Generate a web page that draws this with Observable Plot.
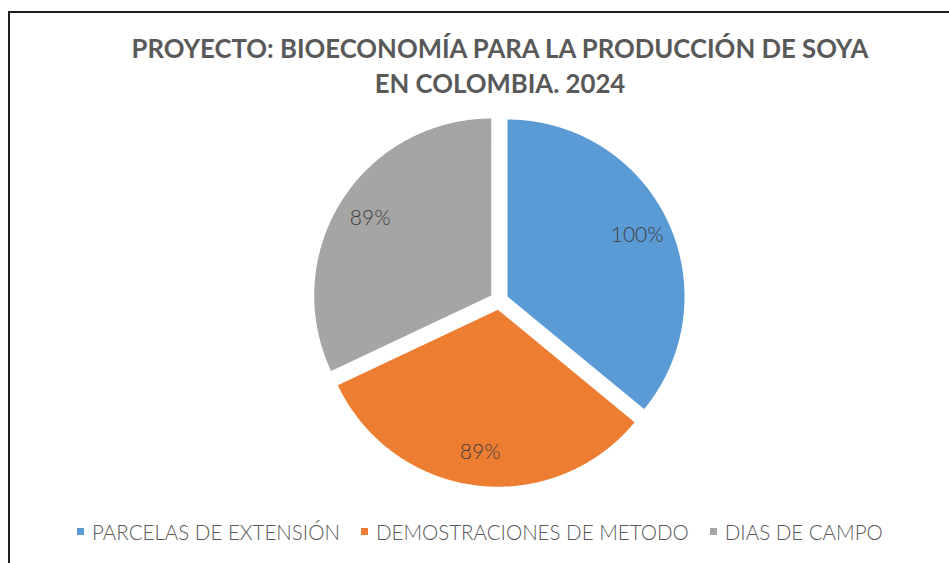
<!DOCTYPE html>
<html><head><meta charset="utf-8">
<script src="https://cdn.jsdelivr.net/npm/d3@7"></script>
<script src="https://cdn.jsdelivr.net/npm/@observablehq/plot@0.6"></script>
<style>
html,body{margin:0;padding:0;background:#fff;overflow:hidden;width:949px;height:563px;}
#frame{position:absolute;left:8px;top:11px;width:1000px;height:600px;border:2px solid #1e1e1e;box-sizing:border-box;}
.title{position:absolute;left:0;width:1000px;text-align:center;font-family:Lato;font-weight:700;color:#595959;line-height:1;white-space:nowrap;}
#chart{position:absolute;left:0;top:100px;}
#legend{position:absolute;left:77px;color:#595959;}
#legend .leg-swatches{font-family:Lato !important;font-weight:300;margin:0 !important;}
#legend .leg-swatches-wrap{min-height:0 !important;display:flex;align-items:center;flex-wrap:nowrap;}
#legend .leg-swatch{line-height:1;white-space:nowrap;display:inline-flex;align-items:center;margin-right:21px !important;}
#legend .leg-swatch > svg{margin-right:8px !important;}
</style></head>
<body>
<div id="frame"></div>
<div class="title" id="t1"></div>
<div class="title" id="t2"></div>
<div id="chart"></div>
<div id="legend"></div>
<script>
const categories = ["PARCELAS DE EXTENSIÓN", "DEMOSTRACIONES DE METODO", "DIAS DE CAMPO"];
const values = [100, 89, 89];
const valueLabels = ["100%", "89%", "89%"];
const colors = ["#5B9BD5", "#ED7D31", "#A5A5A5"];
const titleLines = ["PROYECTO: BIOECONOMÍA PARA LA PRODUCCIÓN DE SOYA", "EN COLOMBIA. 2024"];

const ctx = document.createElement("canvas").getContext("2d");
function measure(text, weight, size) { ctx.font = `${weight} ${size}px Lato`; return ctx.measureText(text).width; }

// Title
const titleFs = 740 / measure(titleLines[0], 700, 100) * 100;
const t1 = document.getElementById("t1"), t2 = document.getElementById("t2");
t1.textContent = titleLines[0]; t2.textContent = titleLines[1];
t1.style.fontSize = t2.style.fontSize = titleFs + "px";
t1.style.top = (40 - 0.1705 * titleFs) + "px";
t2.style.top = (75.5 - 0.1705 * titleFs) + "px";

// Pie
const W = 949, H = 400, R = 177, cxPx = 498.6, cyPx = 200;
const explode = 9.3 / R;
const arcs = d3.pie().sort(null).value(d => d)(values);
const pts = [], labelPts = [];
arcs.forEach((p, i) => {
  const mid = (p.startAngle + p.endAngle) / 2;
  const ox = explode * Math.sin(mid), oy = explode * Math.cos(mid);
  pts.push({cat: categories[i], x: ox, y: oy});
  const n = Math.ceil((p.endAngle - p.startAngle) / (Math.PI / 360));
  for (let k = 0; k <= n; k++) {
    const a = p.startAngle + (p.endAngle - p.startAngle) * k / n;
    pts.push({cat: categories[i], x: ox + Math.sin(a), y: oy + Math.cos(a)});
  }
  labelPts.push({cat: categories[i], label: valueLabels[i], x: ox + 0.81 * Math.sin(mid), y: oy + 0.81 * Math.cos(mid)});
});

const chart = Plot.plot({
  width: W, height: H, margin: 0,
  x: {domain: [-cxPx / R, (W - cxPx) / R], axis: null},
  y: {domain: [-(H - cyPx) / R, cyPx / R], axis: null},
  color: {domain: categories, range: colors},
  marks: [
    Plot.line(pts, {x: "x", y: "y", z: "cat", fill: "cat", stroke: "none", curve: "linear-closed"}),
    Plot.text(labelPts, {x: "x", y: "y", text: "label", fontSize: 21, fill: "#404040", fontFamily: "Lato", fontWeight: 300})
  ]
});
document.getElementById("chart").appendChild(chart);

// Legend
const textTotal = categories.reduce((s, c) => s + measure(c, 300, 100), 0);
const legFs = 719 / textTotal * 100;
const leg = Plot.legend({color: {domain: categories, range: colors}, legend: "swatches", swatchSize: 7, className: "leg"});
const legDiv = document.getElementById("legend");
legDiv.appendChild(leg);
legDiv.style.fontSize = legFs + "px";
leg.style.fontSize = legFs + "px";
legDiv.style.top = (525 - 0.1705 * legFs) + "px";
</script>
</body></html>
